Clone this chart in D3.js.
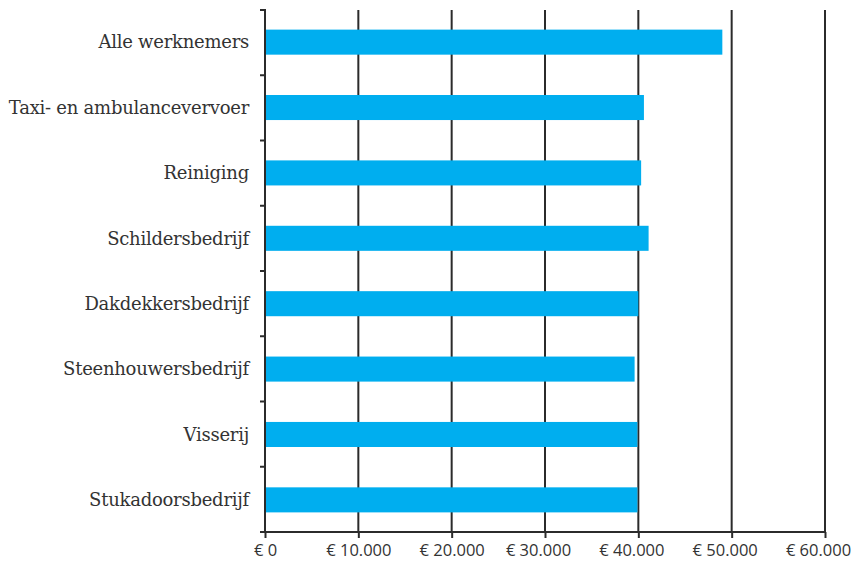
<!DOCTYPE html>
<meta charset="utf-8">
<style>
	body { margin: 0; background: #fff; }
	.label { font-family: "DejaVu Serif", serif; font-size: 18px; fill: #333; letter-spacing: -0.25px; }
	.tick text { font-family: "Open Sans", sans-serif; font-size: 16.5px; fill: #333; }
	.grid line, .axis path, .axis line { stroke: #2b2b2b; stroke-width: 2; }
</style>
<body>
<script src="https://d3js.org/d3.v7.min.js"></script>
<script>
// sectoren en gemiddeld jaarloon
var sectoren = ["Alle werknemers", "Taxi- en ambulancevervoer", "Reiniging", "Schildersbedrijf",
	"Dakdekkersbedrijf", "Steenhouwersbedrijf", "Visserij", "Stukadoorsbedrijf"];
var lonen = [49000, 40600, 40300, 41100, 40000, 39600, 39900, 39900];
var xTicks = [0, 10000, 20000, 30000, 40000, 50000, 60000];
var xTickLabels = ["€ 0", "€ 10.000", "€ 20.000", "€ 30.000", "€ 40.000", "€ 50.000", "€ 60.000"];

(function(){
	var width = 857, height = 563,
		m = {top: 10, left: 265, right: 32, bottom: 31};

	var svg = d3.select("body").append("svg")
		.attr("width", width)
		.attr("height", height);

	var x = d3.scaleLinear()
		.domain([0, 60000])
		.range([m.left, width - m.right]);

	var y = d3.scaleBand()
		.domain(sectoren)
		.range([m.top, height - m.bottom])
		.paddingInner(0.617)
		.paddingOuter(0.3);

	// band grenzen voor de tickjes op de y-as
	var step = (height - m.bottom - m.top) / sectoren.length;
	var yEdges = d3.range(sectoren.length + 1).map(function(i){ return m.top + i * step; });

	// verticale rasterlijnen
	svg.append("g").attr("class", "grid")
		.selectAll("line")
		.data(xTicks.slice(1))
		.enter().append("line")
		.attr("x1", function(d){ return x(d); })
		.attr("x2", function(d){ return x(d); })
		.attr("y1", m.top)
		.attr("y2", height - m.bottom);

	// balken
	svg.append("g")
		.selectAll("rect")
		.data(lonen)
		.enter().append("rect")
		.attr("x", x(0))
		.attr("y", function(d, i){ return y(sectoren[i]); })
		.attr("width", function(d){ return x(d) - x(0); })
		.attr("height", y.bandwidth())
		.attr("fill", "#00aeef");

	// y-as
	var ya = svg.append("g").attr("class", "axis");
	ya.append("line")
		.attr("x1", x(0)).attr("x2", x(0))
		.attr("y1", m.top - 1).attr("y2", height - m.bottom);
	ya.selectAll(".yt")
		.data(yEdges)
		.enter().append("line")
		.attr("x1", x(0) - 5).attr("x2", x(0))
		.attr("y1", function(d){ return d; })
		.attr("y2", function(d){ return d; });

	// x-as
	svg.append("g")
		.attr("class", "axis")
		.attr("transform", "translate(0," + (height - m.bottom) + ")")
		.call(d3.axisBottom(x)
			.tickValues(xTicks)
			.tickSize(6)
			.tickSizeOuter(0)
			.tickPadding(6)
			.tickFormat(function(d, i){ return xTickLabels[i]; }))
		.call(function(g){
			g.select(".domain").attr("d", "M" + (x(0) - 5) + ",0H" + x(60000));
			// de rechter labels staan in het origineel iets naar links
			g.selectAll(".tick text").attr("dx", function(d){ return d >= 30000 ? -7 : 0; });
		});

	// labels
	svg.append("g")
		.selectAll("text")
		.data(sectoren)
		.enter().append("text")
		.attr("class", "label")
		.attr("x", x(0) - 16)
		.attr("y", function(d){ return y(d) + y.bandwidth() / 2; })
		.attr("dy", "0.35em")
		.attr("text-anchor", "end")
		.text(function(d){ return d; });
})();
</script>
